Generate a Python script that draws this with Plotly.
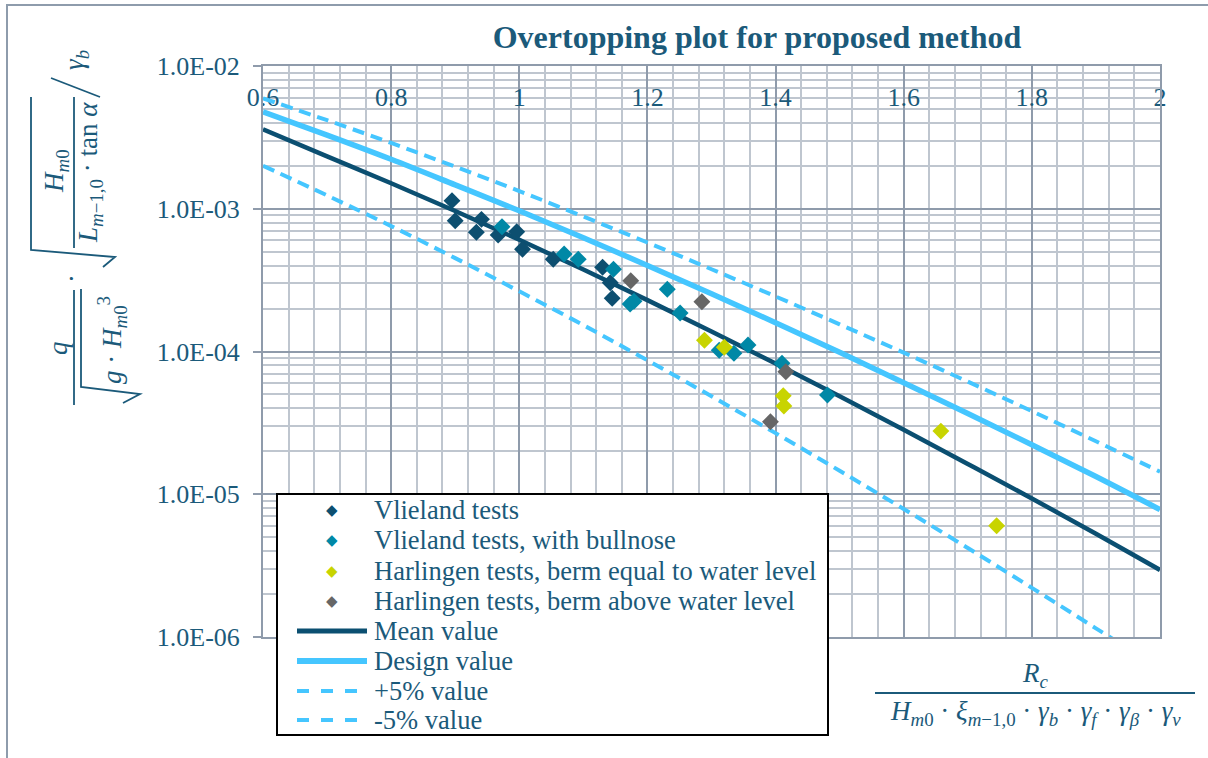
import plotly.graph_objects as go

# ---------------- data ----------------
x_curve = [0.6, 0.7, 0.8, 0.9, 1.0, 1.1, 1.2, 1.3, 1.4, 1.5, 1.6, 1.7, 1.8, 1.9, 2.0]
mean_vals = [3.60e-3, 2.33e-3, 1.51e-3, 9.64e-4, 6.06e-4, 3.75e-4, 2.29e-4, 1.38e-4,
             8.23e-5, 4.85e-5, 2.83e-5, 1.63e-5, 9.34e-6, 5.29e-6, 2.95e-6]
design_vals = [4.78e-3, 3.28e-3, 2.22e-3, 1.47e-3, 9.68e-4, 6.27e-4, 4.01e-4, 2.54e-4,
               1.59e-4, 9.86e-5, 6.05e-5, 3.68e-5, 2.22e-5, 1.33e-5, 7.8e-6]
plus5_vals = [5.94e-3, 4.17e-3, 2.89e-3, 1.97e-3, 1.33e-3, 8.82e-4, 5.80e-4, 3.77e-4,
              2.43e-4, 1.55e-4, 9.81e-5, 6.15e-5, 3.82e-5, 2.35e-5, 1.44e-5]
minus5_vals = [2.00e-3, 1.24e-3, 7.56e-4, 4.51e-4, 2.64e-4, 1.53e-4, 8.67e-5, 4.86e-5,
               2.68e-5, 1.46e-5, 7.89e-6, 4.20e-6, 2.21e-6, 1.15e-6, 6.0e-7]

vlieland_x = [0.895, 0.900, 0.933, 0.941, 0.967, 0.996, 1.005, 1.053, 1.130, 1.142, 1.145]
vlieland_y = [1.14e-3, 8.25e-4, 6.84e-4, 8.43e-4, 6.55e-4, 6.90e-4, 5.20e-4, 4.43e-4,
              3.89e-4, 3.03e-4, 2.36e-4]

bullnose_x = [0.973, 1.070, 1.092, 1.147, 1.173, 1.179, 1.231, 1.251, 1.312, 1.335, 1.357,
              1.410, 1.481]
bullnose_y = [7.48e-4, 4.82e-4, 4.43e-4, 3.77e-4, 2.15e-4, 2.25e-4, 2.73e-4, 1.86e-4,
              1.02e-4, 9.71e-5, 1.11e-4, 8.27e-5, 4.96e-5]

harl_eq_x = [1.289, 1.320, 1.412, 1.413, 1.658, 1.745]
harl_eq_y = [1.20e-4, 1.07e-4, 4.90e-5, 4.15e-5, 2.77e-5, 6.02e-6]

harl_above_x = [1.174, 1.285, 1.416, 1.392]
harl_above_y = [3.13e-4, 2.23e-4, 7.22e-5, 3.22e-5]

x_ticks = [0.6, 0.8, 1.0, 1.2, 1.4, 1.6, 1.8, 2.0]
x_ticktext = ["0.6", "0.8", "1", "1.2", "1.4", "1.6", "1.8", "2"]
y_ticks = [1e-6, 1e-5, 1e-4, 1e-3, 1e-2]
y_ticktext = ["1.0E-06", "1.0E-05", "1.0E-04", "1.0E-03", "1.0E-02"]

legend_labels = ["Vlieland tests", "Vlieland tests, with bullnose",
                 "Harlingen tests, berm equal to water level",
                 "Harlingen tests, berm above water level",
                 "Mean value", "Design value", "+5% value", "-5% value"]

# ---------------- style ----------------
TXT = "#1B5A7A"
C_MEAN = "#0B4F71"
C_VL = "#0D4F70"
C_BN = "#0088A6"
C_EQ = "#C8D400"
C_AB = "#666666"
C_DES = "#45C6FF"
GRID_MAJ = "#8F9BAB"
GRID_MIN = "#BFC6CF"
SERIF = "Liberation Serif"

W, H = 1208, 758
L, R, T, B = 263, 48, 66, 121
PW, PH = W - L - R, H - T - B


def px(xp):
    return (xp - L) / PW


def py(yp):
    return (H - B - yp) / PH


fig = go.Figure()

for vals, col, wd, dash, nm in [
    (mean_vals, C_MEAN, 4.5, "solid", "Mean value"),
    (design_vals, C_DES, 5.5, "solid", "Design value"),
    (plus5_vals, C_DES, 4, "12px,7px", "+5% value"),
    (minus5_vals, C_DES, 4, "12px,7px", "-5% value"),
]:
    fig.add_trace(go.Scatter(x=x_curve, y=vals, mode="lines", name=nm,
                             line=dict(color=col, width=wd, dash=dash, shape="spline"),
                             showlegend=False))

for xs, ys, col, nm in [
    (vlieland_x, vlieland_y, C_VL, "Vlieland tests"),
    (bullnose_x, bullnose_y, C_BN, "Vlieland tests, with bullnose"),
    (harl_eq_x, harl_eq_y, C_EQ, "Harlingen tests, berm equal to water level"),
    (harl_above_x, harl_above_y, C_AB, "Harlingen tests, berm above water level"),
]:
    fig.add_trace(go.Scatter(x=xs, y=ys, mode="markers", name=nm,
                             marker=dict(symbol="diamond", size=13, color=col,
                                         line=dict(width=0)),
                             showlegend=False))

shapes = []
annotations = []

# outer chart frame
shapes.append(dict(type="rect", xref="paper", yref="paper",
                   x0=px(7), x1=px(1230), y0=py(780), y1=py(5),
                   line=dict(color="#8E9CAC", width=2), fillcolor="rgba(0,0,0,0)",
                   layer="below"))

# ---- y-axis title (rotated formula) ----
FS = 27


def rot(text, xp, yp, size=FS):
    annotations.append(dict(text=text, xref="paper", yref="paper", x=px(xp), y=py(yp),
                            xanchor="center", yanchor="middle", textangle=-90,
                            showarrow=False, font=dict(family=SERIF, size=size, color=TXT)))


rot("<i>q</i>", 58, 348)
rot("<i>g</i> · <i>H</i><sub><i>m</i>0</sub><sup>3</sup>", 112, 340)
rot("·", 72, 279)
rot("<i>H</i><sub><i>m</i>0</sub>", 56, 171)
rot("<i>L</i><sub><i>m</i>−1,0</sub> · tan <i>α</i>", 90, 173)
rot("<i>γ</i><sub><i>b</i></sub>", 76, 60)


def path(points, width=1.8, color=TXT):
    d = "M " + " L ".join(f"{px(a):.5f},{py(b):.5f}" for a, b in points)
    shapes.append(dict(type="path", path=d, xref="paper", yref="paper",
                       line=dict(color=color, width=width), layer="above"))


path([(74, 290), (74, 405)])                      # fraction bar 1
path([(81, 289), (81, 387), (140, 394), (123, 403)])  # radical 1
path([(74, 97), (74, 248)])                       # fraction bar 2
path([(31, 97), (31, 250), (115, 257), (103, 267)])   # radical 2
path([(100, 97), (51, 78)])                       # slash

# ---- x-axis title ----
annotations.append(dict(text="<i>R</i><sub><i>c</i></sub>", xref="paper", yref="paper",
                        x=px(1035), y=py(675), xanchor="center", yanchor="middle",
                        showarrow=False, font=dict(family=SERIF, size=FS, color=TXT)))
annotations.append(dict(
    text="<i>H</i><sub><i>m</i>0</sub> · <i>ξ</i><sub><i>m</i>−1,0</sub> · <i>γ</i><sub><i>b</i></sub>"
         " · <i>γ</i><sub><i>f</i></sub> · <i>γ</i><sub><i>β</i></sub> · <i>γ</i><sub><i>v</i></sub>",
    xref="paper", yref="paper", x=px(1035), y=py(713), xanchor="center", yanchor="middle",
    showarrow=False, font=dict(family=SERIF, size=FS, color=TXT)))
path([(875, 693), (1195, 693)], width=2.2)

# ---- custom legend ----
shapes.append(dict(type="rect", xref="paper", yref="paper",
                   x0=px(277), x1=px(828), y0=py(735), y1=py(494),
                   line=dict(color="black", width=2), fillcolor="white", layer="above"))
row_y = [510, 540, 571, 601, 631, 661, 691, 720]
mk_cols = [C_VL, C_BN, C_EQ, C_AB]
for i, lab in enumerate(legend_labels):
    annotations.append(dict(text=lab, xref="paper", yref="paper", x=px(372), y=py(row_y[i]),
                            xanchor="left", yanchor="middle", showarrow=False,
                            font=dict(family=SERIF, size=26.5, color=TXT)))
for i, col in enumerate(mk_cols):
    annotations.append(dict(text="◆", xref="paper", yref="paper", x=px(332), y=py(row_y[i]),
                            xanchor="center", yanchor="middle", showarrow=False,
                            font=dict(family="DejaVu Sans", size=15, color=col)))
for i, (col, wd, dash) in enumerate([(C_MEAN, 5, "solid"), (C_DES, 6, "solid"),
                                      (C_DES, 4, "dash"), (C_DES, 4, "dash")]):
    yy = py(row_y[4 + i])
    shapes.append(dict(type="line", xref="paper", yref="paper", x0=px(297), x1=px(367),
                       y0=yy, y1=yy, line=dict(color=col, width=wd, dash=dash), layer="above"))

fig.update_layout(
    width=W, height=H,
    margin=dict(l=L, r=R, t=T, b=B, pad=0),
    paper_bgcolor="white", plot_bgcolor="white",
    title=dict(text="<b>Overtopping plot for proposed method</b>", x=px(757), xref="paper",
               xanchor="center", y=1 - 37 / H, yref="container", yanchor="middle",
               font=dict(family=SERIF, size=32, color=TXT)),
    shapes=shapes, annotations=annotations,
    xaxis=dict(range=[0.6, 2.0], side="top", tickvals=x_ticks, ticktext=x_ticktext,
               ticklabelposition="inside", ticklabeloverflow="allow", ticklabelstandoff=24,
               ticks="", showgrid=True, gridcolor=GRID_MAJ, gridwidth=2,
               minor=dict(dtick=0.04, tick0=0.6, showgrid=True, gridcolor=GRID_MIN, gridwidth=2),
               showline=True, linecolor=GRID_MAJ, linewidth=2, mirror=True, zeroline=False,
               tickfont=dict(family=SERIF, size=26, color=TXT), layer="below traces"),
    yaxis=dict(type="log", range=[-6, -2], tickvals=y_ticks, ticktext=y_ticktext,
               ticks="outside", ticklen=8, tickcolor=GRID_MAJ, tickwidth=2,
               ticklabelstandoff=8,
               showgrid=True, gridcolor=GRID_MAJ, gridwidth=2,
               minor=dict(dtick="D1", showgrid=True, gridcolor=GRID_MIN, gridwidth=2),
               showline=True, linecolor=GRID_MAJ, linewidth=2, mirror=True, zeroline=False,
               tickfont=dict(family=SERIF, size=26, color=TXT)),
)

fig.write_html("out.html")
